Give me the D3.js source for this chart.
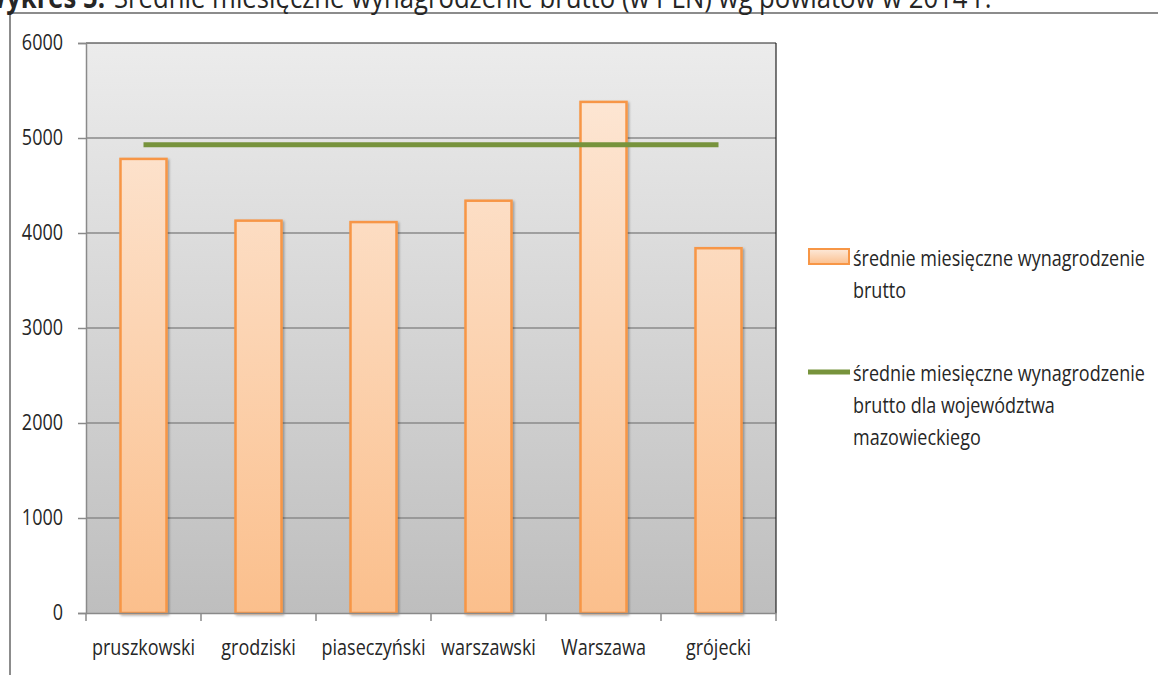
<!DOCTYPE html>
<html lang="pl">
<head>
<meta charset="utf-8">
<script src="https://cdn.jsdelivr.net/npm/d3@7"></script>
<style>
  body { margin: 0; background: #fff; }
  svg text { font-family: "Open Sans", "DejaVu Sans", sans-serif; fill: #262626; }
</style>
</head>
<body>
<div id="chart"></div>
<script>
  // dane
  const categories = ['pruszkowski', 'grodziski', 'piaseczyński', 'warszawski', 'Warszawa', 'grójecki']
  const salaries = [4780, 4130, 4115, 4340, 5380, 3840]
  const voivodeshipAvg = 4930
  const yTicks = [0, 1000, 2000, 3000, 4000, 5000, 6000]
  const legendLabels = [
    ['średnie miesięczne wynagrodzenie', 'brutto'],
    ['średnie miesięczne wynagrodzenie', 'brutto dla województwa', 'mazowieckiego']
  ]

  const w = 1158
  const h = 675
  const padL = 86, padR = 776, padT = 43, padB = 613
  const SX = 0.857 // zwężenie tekstu (krój podobny do Calibri)

  // ściska tekst w poziomie, zachowując jego punkt zaczepienia
  function squeeze(sel) {
    sel.each(function() {
      const t = d3.select(this)
      const x = +t.attr('x') || 0
      t.attr('x', x / SX).attr('transform', 'scale(' + SX + ',1)')
    })
  }

  const svg = d3.select('#chart')
    .append('svg')
    .attr('width', w)
    .attr('height', h)

  const defs = svg.append('defs')
  const bg = defs.append('linearGradient').attr('id', 'bgGrad')
    .attr('x1', 0).attr('y1', 0).attr('x2', 0).attr('y2', 1)
  bg.append('stop').attr('offset', '0%').attr('stop-color', '#ececec')
  bg.append('stop').attr('offset', '100%').attr('stop-color', '#bebebe')

  const barGrad = defs.append('linearGradient').attr('id', 'barGrad')
    .attr('gradientUnits', 'userSpaceOnUse')
    .attr('x1', 0).attr('y1', padT).attr('x2', 0).attr('y2', padB)
  barGrad.append('stop').attr('offset', '0%').attr('stop-color', '#fdeadb')
  barGrad.append('stop').attr('offset', '100%').attr('stop-color', '#fbbf8c')

  const legGrad = defs.append('linearGradient').attr('id', 'legGrad')
    .attr('x1', 0).attr('y1', 0).attr('x2', 0).attr('y2', 1)
  legGrad.append('stop').attr('offset', '0%').attr('stop-color', '#fde9d9')
  legGrad.append('stop').attr('offset', '100%').attr('stop-color', '#fbc08f')

  const shadow = defs.append('filter').attr('id', 'shadow')
    .attr('x', '-20%').attr('y', '-20%').attr('width', '140%').attr('height', '140%')
  shadow.append('feDropShadow').attr('dx', 1.5).attr('dy', 1.5)
    .attr('stdDeviation', 1.2).attr('flood-color', '#000').attr('flood-opacity', 0.3)

  // ramka wykresu
  svg.append('rect')
    .attr('x', 10).attr('y', 13)
    .attr('width', w + 20).attr('height', h)
    .attr('fill', 'none')
    .attr('stroke', '#8c8c8c')
    .attr('stroke-width', 2)

  // tytuł (przycięty u góry)
  svg.append('text')
    .attr('x', 105).attr('y', 8)
    .attr('text-anchor', 'end')
    .style('font-size', '30px')
    .style('font-weight', 'bold')
    .text('Wykres 5.')
  svg.append('text')
    .attr('x', 114).attr('y', 8)
    .style('font-size', '30px')
    .text('Średnie miesięczne wynagrodzenie brutto (w PLN) wg powiatów w 2014 r.')

  let scaleX = d3.scaleBand()
    .domain(categories)
    .range([padL, padR])

  let scaleY = d3.scaleLinear()
    .domain([0, 6000])
    .range([padB, padT])

  // tło obszaru wykresu
  svg.append('rect')
    .attr('x', padL).attr('y', padT)
    .attr('width', padR - padL).attr('height', padB - padT)
    .attr('fill', 'url(#bgGrad)')

  // linie siatki
  svg.selectAll('line.grid')
    .data(yTicks.slice(1, -1))
    .enter()
    .append('line')
    .attr('class', 'grid')
    .attr('x1', padL).attr('x2', padR)
    .attr('y1', function(d) { return scaleY(d) })
    .attr('y2', function(d) { return scaleY(d) })
    .attr('stroke', '#8a8a8a')
    .attr('stroke-width', 1.5)

  svg.append('line')
    .attr('x1', padL).attr('x2', padR)
    .attr('y1', padT).attr('y2', padT)
    .attr('stroke', '#222').attr('stroke-width', 1.2)
  svg.append('line')
    .attr('x1', padR).attr('x2', padR)
    .attr('y1', padT).attr('y2', padB)
    .attr('stroke', '#222').attr('stroke-width', 1.2)

  // słupki
  const barW = scaleX.bandwidth() * 0.4
  svg.selectAll('rect.bar')
    .data(salaries)
    .enter()
    .append('rect')
    .attr('class', 'bar')
    .attr('x', function(d, i) { return scaleX(categories[i]) + scaleX.bandwidth() / 2 - barW / 2 })
    .attr('y', function(d) { return scaleY(d) })
    .attr('width', barW)
    .attr('height', function(d) { return scaleY(0) - scaleY(d) })
    .attr('fill', 'url(#barGrad)')
    .attr('stroke', '#f79646')
    .attr('stroke-width', 2.5)
    .attr('filter', 'url(#shadow)')

  // linia średniej dla województwa
  const lineData = categories.map(function(c) { return [c, voivodeshipAvg] })
  svg.append('path')
    .datum(lineData)
    .attr('fill', 'none')
    .attr('stroke', '#77933c')
    .attr('stroke-width', 5)
    .attr('d', d3.line()
      .x(function(d) { return scaleX(d[0]) + scaleX.bandwidth() / 2 })
      .y(function(d) { return scaleY(d[1]) }))

  // osie
  let yAxis = d3.axisLeft(scaleY)
    .tickValues(yTicks)
    .tickFormat(d3.format('d'))
    .tickSize(8)
    .tickPadding(15)
  let yG = svg.append('g')
    .attr('transform', 'translate(' + padL + ',0)')
    .call(yAxis)
  yG.select('.domain').attr('stroke', '#8a8a8a').attr('stroke-width', 1.5)
  yG.selectAll('.tick line').attr('stroke', '#8a8a8a').attr('stroke-width', 1.5)
  yG.selectAll('.tick text')
    .style('font-size', '21px')
    .style('font-family', '"Open Sans", sans-serif')
    .attr('fill', '#262626')

  let xAxis = d3.axisBottom(scaleX)
    .tickSize(0)
    .tickPadding(27)
  let xG = svg.append('g')
    .attr('transform', 'translate(0,' + padB + ')')
    .call(xAxis)
  xG.select('.domain').attr('stroke', '#8a8a8a').attr('stroke-width', 1.5)
  xG.selectAll('.tick text')
    .style('font-size', '21px')
    .style('font-family', '"Open Sans", sans-serif')
    .attr('fill', '#262626')
  // znaczniki między kategoriami
  const bounds = categories.map(function(c) { return scaleX(c) }).concat([padR])
  xG.selectAll('line.sep')
    .data(bounds)
    .enter()
    .append('line')
    .attr('class', 'sep')
    .attr('x1', function(d) { return d }).attr('x2', function(d) { return d })
    .attr('y1', 0).attr('y2', 8)
    .attr('stroke', '#8a8a8a').attr('stroke-width', 1.5)

  // legenda
  const leg = svg.append('g')
  leg.append('rect')
    .attr('x', 809).attr('y', 249)
    .attr('width', 40).attr('height', 15)
    .attr('fill', 'url(#legGrad)')
    .attr('stroke', '#f79646').attr('stroke-width', 2)
  leg.append('line')
    .attr('x1', 808).attr('x2', 850)
    .attr('y1', 372).attr('y2', 372)
    .attr('stroke', '#77933c').attr('stroke-width', 5)

  const legY = [266, 381]
  legendLabels.forEach(function(lines, k) {
    leg.selectAll('text.l' + k)
      .data(lines)
      .enter()
      .append('text')
      .attr('class', 'l' + k)
      .attr('x', 853)
      .attr('y', function(d, i) { return legY[k] + i * 32 })
      .style('font-size', '21px')
      .text(function(d) { return d })
  })

  squeeze(svg.selectAll('text'))
</script>
</body>
</html>
